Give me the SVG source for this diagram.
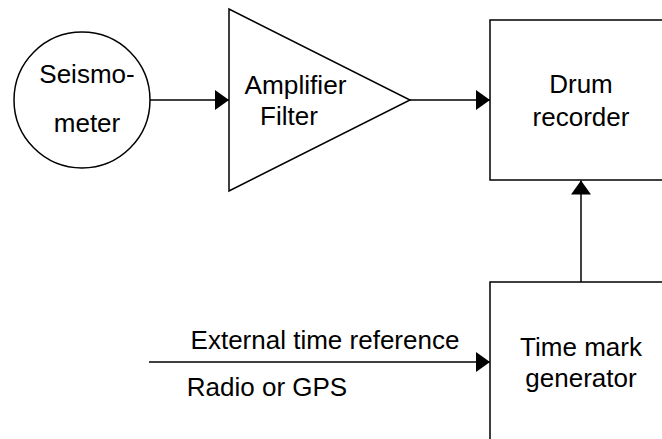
<svg xmlns="http://www.w3.org/2000/svg" width="662" height="439" viewBox="0 0 662 439">
<style>
.s{fill:#fff;stroke:#000;stroke-width:1.5}
.c{fill:none;stroke:#000;stroke-width:1.5}
text{font-family:"Liberation Sans",Arial,sans-serif;font-size:26px;fill:#000;text-anchor:middle}
</style>
<defs>
<marker id="ah" markerUnits="userSpaceOnUse" markerWidth="16" markerHeight="22" refX="14" refY="10" orient="auto">
<path d="M0,0 L14,10 L0,20 Z" fill="#000"/>
</marker>
</defs>
<rect width="662" height="439" fill="#fff"/>
<g id="seismometer">
<circle class="s" cx="82" cy="100" r="68"/>
<text x="87" y="83">Seismo-</text>
<text x="87" y="132">meter</text>
</g>
<g id="amplifier">
<polygon class="s" points="229,9 229,191 410,100"/>
<text x="295.5" y="94" textLength="102" lengthAdjust="spacingAndGlyphs">Amplifier</text>
<text x="289" y="125">Filter</text>
</g>
<g id="drum">
<rect class="s" x="490" y="20" width="200" height="160"/>
<text x="581" y="93">Drum</text>
<text x="581" y="126">recorder</text>
</g>
<g id="timemark">
<rect class="s" x="490" y="282" width="200" height="200"/>
<text x="581" y="356">Time mark</text>
<text x="581" y="387">generator</text>
</g>
<g id="connectors">
<line class="c" x1="150" y1="100" x2="229" y2="100" marker-end="url(#ah)"/>
<line class="c" x1="410" y1="100" x2="490" y2="100" marker-end="url(#ah)"/>
<line class="c" x1="581" y1="282" x2="581" y2="180.5" marker-end="url(#ah)"/>
<line class="c" x1="149" y1="362" x2="490" y2="362" marker-end="url(#ah)"/>
<text x="325" y="349">External time reference</text>
<text x="267" y="396">Radio or GPS</text>
</g>
</svg>
